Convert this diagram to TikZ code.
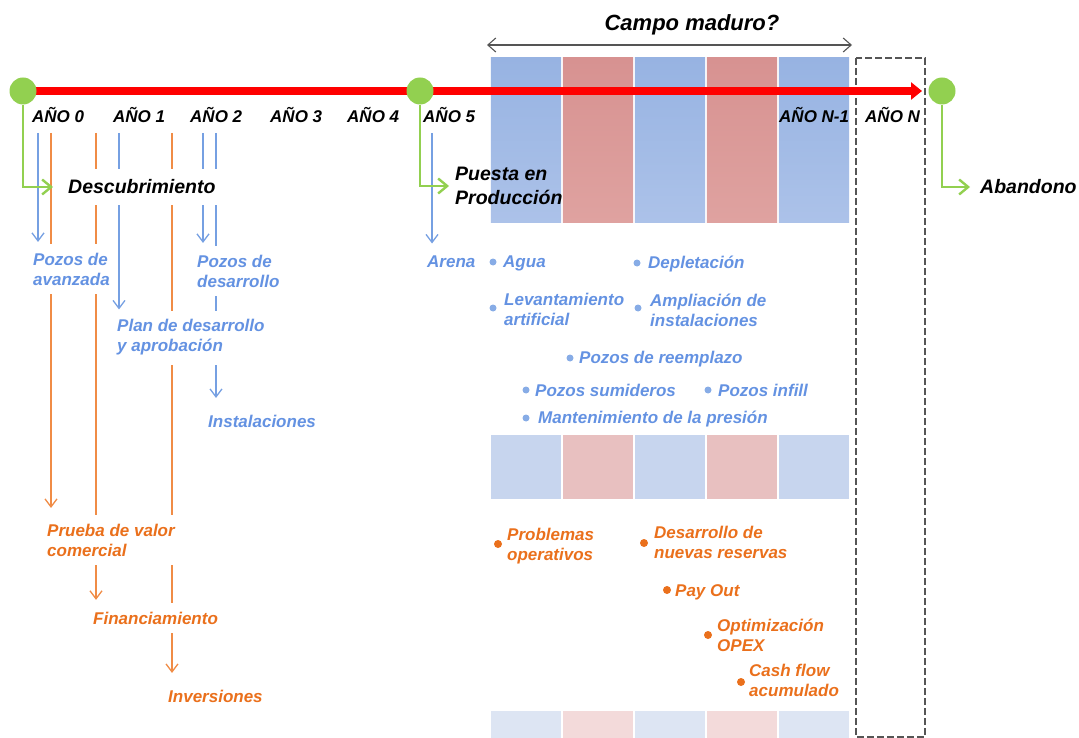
\documentclass[tikz,border=0pt]{standalone}
\usepackage{fontspec}
\setmainfont{Liberation Sans}
\usetikzlibrary{arrows.meta,calc}
\pgfdeclarelayer{back}
\pgfdeclarelayer{lines}
\pgfsetlayers{back,lines,main}
\definecolor{tblue}{RGB}{100,146,226}
\definecolor{lblue}{RGB}{118,160,226}
\definecolor{dblue}{RGB}{135,172,230}
\definecolor{torange}{RGB}{234,112,28}
\definecolor{lorange}{RGB}{240,140,70}
\definecolor{gr}{RGB}{146,208,80}
\definecolor{cbA}{RGB}{151,179,226}
\definecolor{cbB}{RGB}{172,194,233}
\definecolor{crA}{RGB}{215,146,145}
\definecolor{crB}{RGB}{223,162,160}
\definecolor{cbM}{RGB}{199,213,238}
\definecolor{crM}{RGB}{232,192,192}
\definecolor{cbL}{RGB}{221,229,243}
\definecolor{crL}{RGB}{243,218,218}
\definecolor{dgray}{RGB}{85,85,85}
\begin{document}
\begin{tikzpicture}[x=1pt,y=-1pt,
  lab/.style={font=\fontsize{17}{20}\selectfont\bfseries\itshape, align=left},
  wlab/.style={lab, fill=white, inner xsep=3pt, inner ysep=9pt},
  bw/.style={wlab, text=tblue},
  ow/.style={wlab, text=torange},
  blab/.style={lab, text=tblue, inner xsep=0pt, inner ysep=2pt},
  olab/.style={lab, text=torange, inner xsep=0pt, inner ysep=2pt},
  yr/.style={font=\fontsize{17}{20}\selectfont\bfseries\itshape, inner xsep=0pt, anchor=base west},
  evt/.style={font=\fontsize{19.5}{24}\selectfont\bfseries\itshape, align=left, inner xsep=3pt},
  gdot/.style={circle, fill=gr, minimum size=27pt, inner sep=0pt},
  bdot/.style={circle, fill=dblue, minimum size=7pt, inner sep=0pt},
  odot/.style={circle, fill=torange, minimum size=8pt, inner sep=0pt},
  barr/.style={draw=lblue, line width=1.3pt, -{Straight Barb[length=8pt,width=12pt]}},
  oarr/.style={draw=lorange, line width=1.3pt, -{Straight Barb[length=8pt,width=12pt]}},
  garr/.style={draw=gr, line width=2.4pt, -{Straight Barb[length=9pt,width=15pt]}},
]
\useasboundingbox (0,0) rectangle (1079,738);

% ---------- column bands ----------
\begin{pgfonlayer}{back}
\foreach \x/\a/\b in {490/cbA/cbB,562/crA/crB,634/cbA/cbB,706/crA/crB,778/cbA/cbB}{
  \shade[top color=\a, bottom color=\b] (\x+0.8,58) rectangle (\x+71.2,223);
}
\foreach \x/\a in {490/cbM,562/crM,634/cbM,706/crM,778/cbM}{
  \fill[\a] (\x+0.8,435) rectangle (\x+71.2,499);
}
\foreach \x/\a in {490/cbL,562/crL,634/cbL,706/crL,778/cbL}{
  \fill[\a] (\x+0.8,711) rectangle (\x+71.2,738);
}
\draw[dgray, line width=2pt, dash pattern=on 7pt off 3pt] (856,58) rectangle (925,737);
\end{pgfonlayer}

% ---------- title and span arrow ----------
\node[font=\fontsize{22}{26}\selectfont\bfseries\itshape] (campo) at (692,25) {Campo maduro?};
\coordinate (ca1) at (487,45);
\coordinate (ca2) at (852,45);
\draw[dgray, line width=1.1pt, {Straight Barb[length=8pt,width=14pt]}-{Straight Barb[length=8pt,width=14pt]}] (ca1) -- (ca2);

% ---------- milestones ----------
\node[gdot] (c1) at (23,91) {};
\node[gdot] (c2) at (420,91) {};
\node[gdot] (c3) at (942,91) {};
\coordinate (rend) at (922,91);
\begin{pgfonlayer}{lines}
\draw[red, line width=8pt, -{Triangle[length=11pt,width=17pt]}] (c1.center) -- (rend);
\end{pgfonlayer}

% ---------- years ----------
\node[yr] (y0) at (32,123) {AÑO 0};
\node[yr] (y1) at (113,123) {AÑO 1};
\node[yr] (y2) at (190,123) {AÑO 2};
\node[yr] (y3) at (270,123) {AÑO 3};
\node[yr] (y4) at (347,123) {AÑO 4};
\node[yr] (y5) at (423,123) {AÑO 5};
\node[yr] (yn1) at (779,123) {AÑO N-1};
\node[yr] (yn) at (865,123) {AÑO N};

% ---------- events ----------
\node[evt, fill=white, inner xsep=4pt, inner ysep=11pt, anchor=west] (descub) at (64,187) {Descubrimiento};
\node[evt, anchor=west] (puesta) at (452,186) {Puesta en\\Producción};
\node[evt, anchor=west] (aband) at (977,187) {Abandono};
\draw[garr, shorten >=11pt] (c1) |- (descub);
\draw[garr, shorten >=3pt] (c2) |- (puesta);
\draw[garr, shorten >=7pt] (c3) |- (aband);

% ---------- left labels ----------
\node[bw, anchor=west] (pozav) at (30,269) {Pozos de\\avanzada};
\node[bw, anchor=west] (pozdes) at (194,271) {Pozos de\\desarrollo};
\node[bw, anchor=base west] (arena) at (424,267) {Arena};
\node[bw, anchor=west] (plan) at (114,337.6) {Plan de desarrollo\\y aprobación};
\node[bw, anchor=base west] (instal) at (205,427) {Instalaciones};
\node[ow, anchor=west] (prueba) at (44,540) {Prueba de valor\\comercial};
\node[ow, anchor=base west] (financ) at (90,624) {Financiamiento};
\node[ow, anchor=base west] (invers) at (165,702) {Inversiones};

\coordinate (sb1) at (38,133);
\coordinate (so1) at (51,133);
\coordinate (so2) at (96,133);
\coordinate (sb2) at (119,133);
\coordinate (so3) at (172,133);
\coordinate (sb3) at (203,133);
\coordinate (sb4) at (216,133);
\coordinate (sb5) at (432,133);
\begin{pgfonlayer}{lines}
\draw[barr, shorten >=1.6pt] (sb1) -- (sb1 |- pozav.north);
\draw[oarr, shorten >=6.6pt] (so1) -- (so1 |- prueba.north);
\draw[oarr, shorten >=2.6pt] (so2) -- (so2 |- financ.north);
\draw[barr, shorten >=1pt] (sb2) -- (sb2 |- plan.north);
\draw[oarr, shorten >=7.5pt] (so3) -- (so3 |- invers.north);
\draw[barr, shorten >=2.6pt] (sb3) -- (sb3 |- pozdes.north);
\draw[barr, shorten >=7.5pt] (sb4) -- (sb4 |- instal.north);
\draw[barr, shorten >=2.6pt] (sb5) -- (sb5 |- arena.north);
\end{pgfonlayer}

% ---------- blue bullets ----------
\node[bdot] (d1) at (493,262) {};
\node[blab, anchor=base west] (agua) at (503,267) {Agua};
\node[bdot] (d2) at (637,263) {};
\node[blab, anchor=base west] (deplet) at (648,269) {Depletación};
\node[bdot] (d3) at (493,308) {};
\node[blab, anchor=west] (levant) at (504,309) {Levantamiento\\artificial};
\node[bdot] (d4) at (638,308) {};
\node[blab, anchor=west] (amplia) at (650,310) {Ampliación de\\instalaciones};
\node[bdot] (d5) at (570,358) {};
\node[blab, anchor=base west] (reemp) at (579,363) {Pozos de reemplazo};
\node[bdot] (d6) at (526,390) {};
\node[blab, anchor=base west] (sumid) at (535,396) {Pozos sumideros};
\node[bdot] (d7) at (708,390) {};
\node[blab, anchor=base west] (infill) at (718,396) {Pozos infill};
\node[bdot] (d8) at (526,418) {};
\node[blab, anchor=base west] (mant) at (538,423) {Mantenimiento de la presión};

% ---------- orange bullets ----------
\node[odot] (e1) at (498,544) {};
\node[olab, anchor=west] (probl) at (507,546.6) {Problemas\\operativos};
\node[odot] (e2) at (644,543) {};
\node[olab, anchor=west] (desar) at (654,542) {Desarrollo de\\nuevas reservas};
\node[odot] (e3) at (667,590) {};
\node[olab, anchor=base west] (payout) at (675,596) {Pay Out};
\node[odot] (e4) at (708,635) {};
\node[olab, anchor=west] (optim) at (717,635) {Optimización\\OPEX};
\node[odot] (e5) at (741,682) {};
\node[olab, anchor=west] (cash) at (749,680) {Cash flow\\acumulado};
\end{tikzpicture}
\end{document}
